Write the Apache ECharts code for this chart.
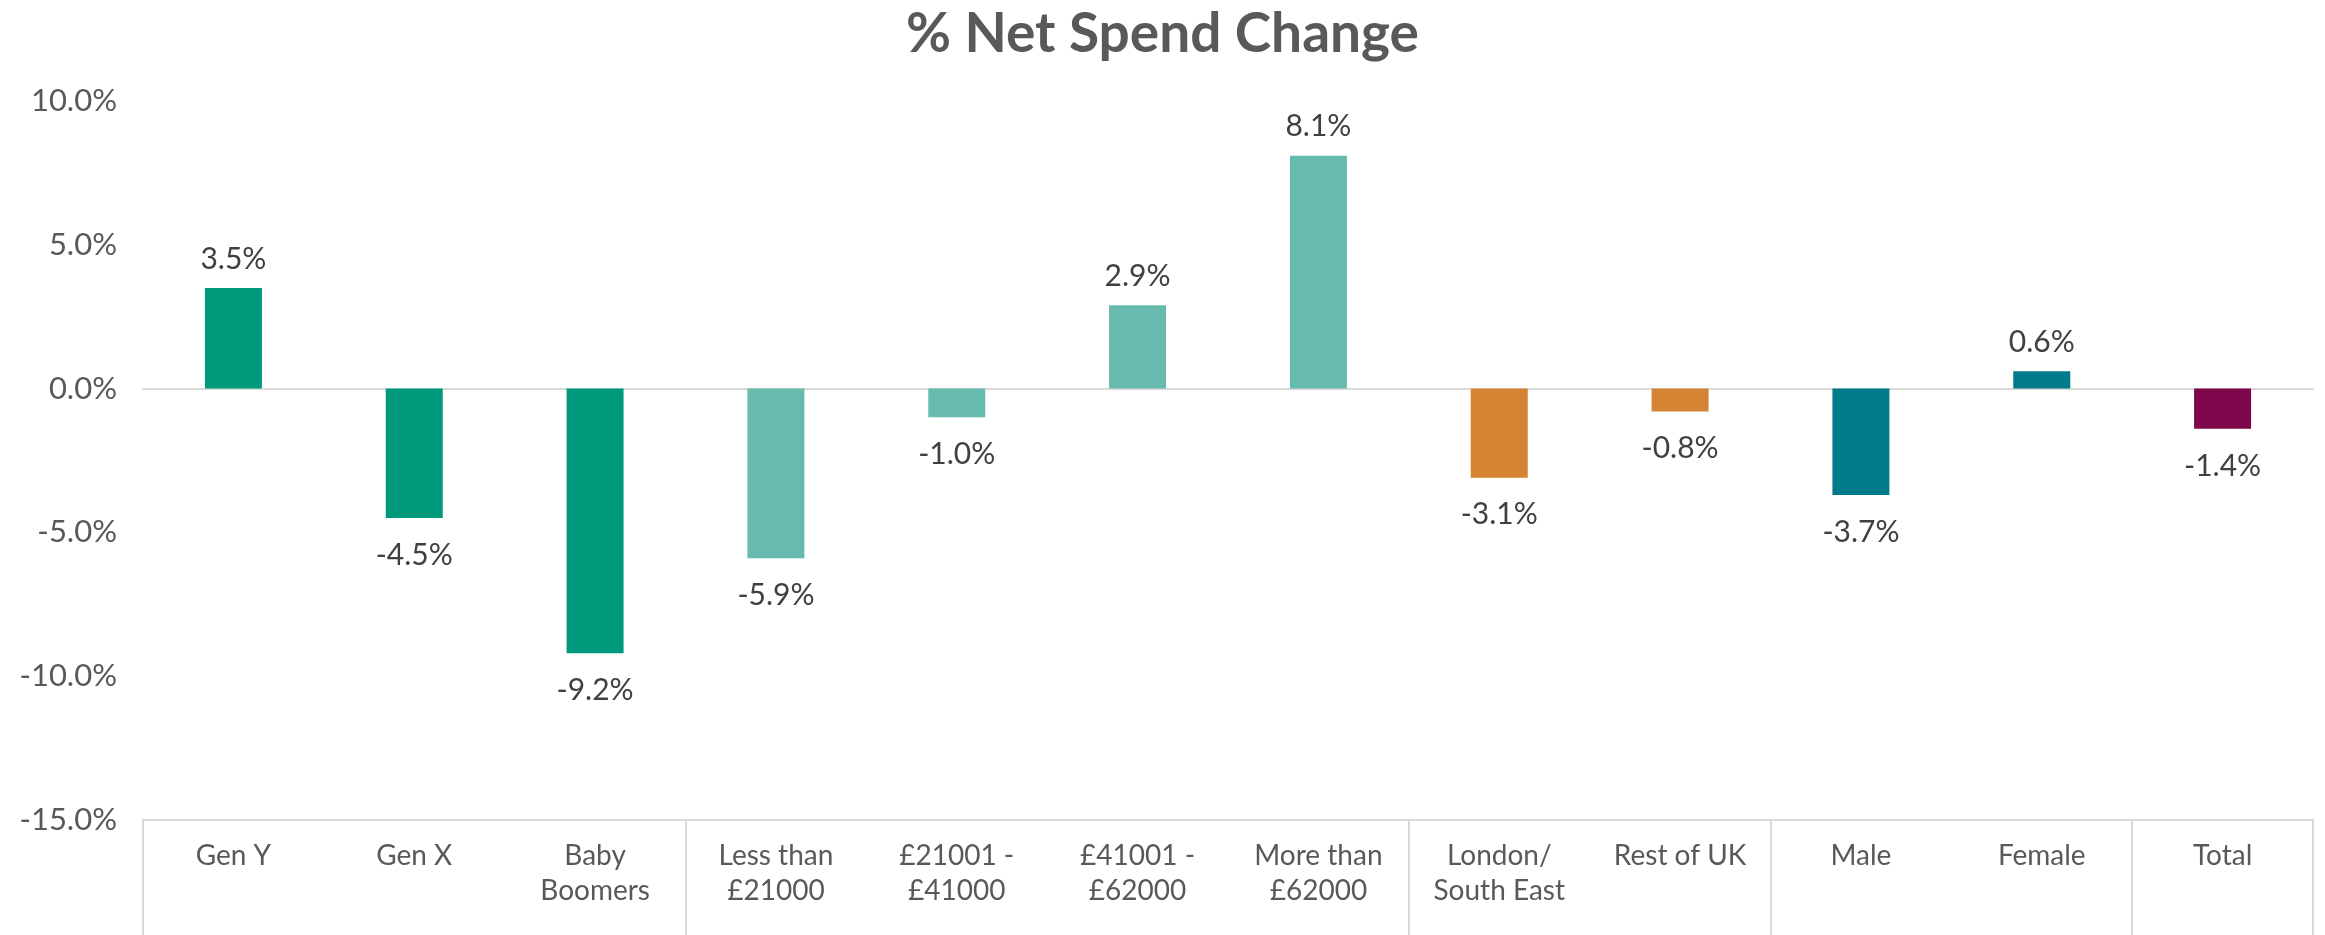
<!DOCTYPE html>
<html>
<head>
<meta charset="utf-8">
<title>% Net Spend Change</title>
<script src="https://cdn.jsdelivr.net/npm/echarts@6/dist/echarts.min.js"></script>
<style>
	html, body { margin: 0; padding: 0; background: #fff; }
	#spendChart { width: 2325px; height: 935px; }
</style>
</head>
<body>
<div id="spendChart"></div>
<script>
	/******************* 数据 ******************/
	var categories = ['Gen Y', 'Gen X', 'Baby\nBoomers', 'Less than\n£21000', '£21001 -\n£41000',
		'£41001 -\n£62000', 'More than\n£62000', 'London/\nSouth East', 'Rest of UK', 'Male', 'Female', 'Total'];
	var netChange = [3.5, -4.5, -9.2, -5.9, -1.0, 2.9, 8.1, -3.1, -0.8, -3.7, 0.6, -1.4];
	// which group each category belongs to
	var groups = ['age', 'age', 'age', 'income', 'income', 'income', 'income', 'region', 'region', 'gender', 'gender', 'total'];
	var yTicks = [-15, -10, -5, 0, 5, 10];

	var groupColors = {
		age: '#00997B',
		income: '#66BBAE',
		region: '#D48433',
		gender: '#007B8A',
		total: '#7D074A'
	};

	// 组分隔线：只在组的起点画刻度
	var groupStarts = [];
	for (var i = 0; i < groups.length; i++) {
		if (i === 0 || groups[i] !== groups[i - 1]) groupStarts.push(i);
	}

	var barData = netChange.map(function (v, idx) {
		return {
			value: v,
			itemStyle: { color: groupColors[groups[idx]] },
			label: {
				position: v >= 0 ? 'top' : 'bottom',
				distance: v >= 0 ? 14 : 22
			}
		};
	});

	var fontFamily = 'Lato, "Open Sans", sans-serif';

	//初始化echarts实例
	var spendChart = echarts.init(document.getElementById('spendChart'));
	var option = {
		animation: false,
		title: {
			text: '% Net Spend Change',
			left: 'center',
			top: 2,
			textStyle: {
				color: '#595959',
				fontSize: 55,
				fontWeight: 'bold',
				fontFamily: fontFamily
			}
		},
		grid: {
			left: 143,
			right: 12,
			top: 101,
			bottom: 115
		},
		xAxis: [{
			type: 'category',
			data: categories,
			position: 'bottom',
			axisLine: {
				onZero: false,
				lineStyle: { color: '#d9d9d9', width: 2 }
			},
			axisTick: {
				show: true,
				length: 125,
				interval: function (index) {
					return groupStarts.indexOf(index) >= 0;
				},
				lineStyle: { color: '#d9d9d9', width: 2 }
			},
			axisLabel: {
				interval: 0,
				margin: 18,
				color: '#595959',
				fontSize: 28,
				lineHeight: 35,
				fontFamily: fontFamily,
				verticalAlign: 'top'
			}
		}, {
			// zero line
			type: 'category',
			data: categories,
			position: 'top',
			axisLine: {
				onZero: true,
				lineStyle: { color: '#d9d9d9', width: 2 }
			},
			axisTick: { show: false },
			axisLabel: { show: false }
		}],
		yAxis: {
			type: 'value',
			min: yTicks[0],
			max: yTicks[yTicks.length - 1],
			interval: 5,
			splitLine: { show: false },
			axisLine: { show: false },
			axisTick: { show: false },
			axisLabel: {
				margin: 26,
				color: '#595959',
				fontSize: 31,
				fontFamily: fontFamily,
				formatter: function (v) {
					return v.toFixed(1) + '%';
				}
			}
		},
		series: [{
			name: '% Net Spend Change',
			type: 'bar',
			xAxisIndex: 0,
			barWidth: 57,
			data: barData,
			label: {
				show: true,
				color: '#404040',
				fontSize: 30,
				fontFamily: fontFamily,
				formatter: function (p) {
					return p.value.toFixed(1) + '%';
				}
			}
		}]
	};
	spendChart.setOption(option);

	/********** 浏览器窗口改变时，重置报表大小 ****************/
	window.onresize = function () {
		spendChart.resize();
	};
</script>
</body>
</html>
